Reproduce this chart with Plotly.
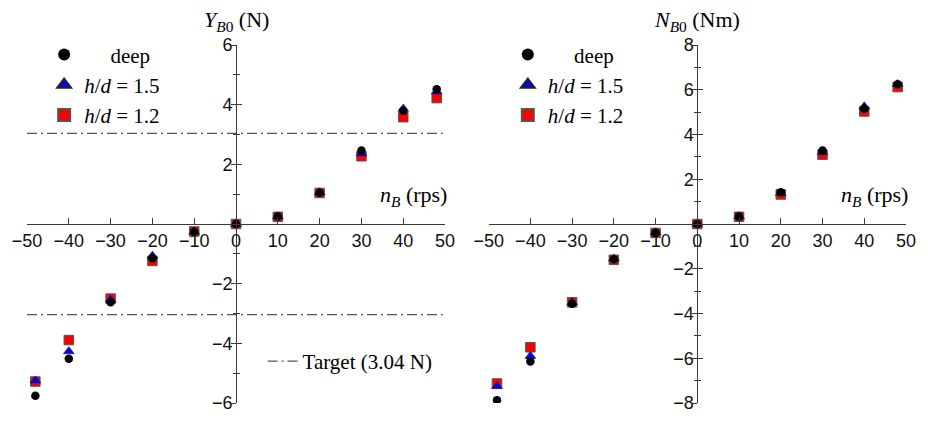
import plotly.graph_objects as go

n_B = [-48, -40, -30, -20, -10, 0, 10, 20, 30, 40, 48]

Y_deep = [-5.76, -4.52, -2.62, -1.15, -0.26, 0, 0.25, 1.05, 2.46, 3.80, 4.52]
Y_h15 = [-5.25, -4.27, -2.54, -1.07, -0.26, 0, 0.25, 1.06, 2.36, 3.86, 4.44]
Y_h12 = [-5.28, -3.89, -2.50, -1.24, -0.25, 0, 0.24, 1.04, 2.27, 3.58, 4.22]

N_deep = [-7.88, -6.14, -3.56, -1.58, -0.39, 0, 0.33, 1.42, 3.28, 5.15, 6.25]
N_h15 = [-7.25, -5.90, -3.50, -1.55, -0.38, 0, 0.33, 1.38, 3.20, 5.25, 6.25]
N_h12 = [-7.13, -5.51, -3.50, -1.60, -0.40, 0, 0.32, 1.32, 3.10, 5.03, 6.12]

target = 3.04
x_range = [-50, 50]
x_ticks = [-50, -40, -30, -20, -10, 0, 10, 20, 30, 40, 50]
y1_ticks = [-6, -4, -2, 2, 4, 6]
y1_minor = [-5, -3, -1, 1, 3, 5]
y2_ticks = [-8, -6, -4, -2, 2, 4, 6, 8]
y2_minor = [-7, -5, -3, -1, 1, 3, 5, 7]

SERIF = "Liberation Serif"
SANS = "Liberation Sans"
AX = "#3a3a3a"

lbl_deep = "&nbsp;&nbsp;&nbsp;&nbsp;&nbsp;deep"
lbl_15 = "<i>h</i>/<i>d</i> = 1.5"
lbl_12 = "<i>h</i>/<i>d</i> = 1.2"

fig = go.Figure()

def add_series(xa, ya, leg, deep, h15, h12):
    fig.add_trace(go.Scatter(x=n_B, y=h12, mode="markers", name=lbl_12, legend=leg, legendrank=3,
                             xaxis=xa, yaxis=ya,
                             marker=dict(symbol="square", size=9.5, color="#ff0000",
                                         line=dict(color="#555555", width=1))))
    fig.add_trace(go.Scatter(x=n_B, y=h15, mode="markers", name=lbl_15, legend=leg, legendrank=2,
                             xaxis=xa, yaxis=ya,
                             marker=dict(symbol="triangle-up", size=9.5, color="#0000ff",
                                         line=dict(color="#222222", width=0.6))))
    fig.add_trace(go.Scatter(x=n_B, y=deep, mode="markers", name=lbl_deep, legend=leg, legendrank=1,
                             xaxis=xa, yaxis=ya,
                             marker=dict(symbol="circle", size=8.5, color="#000000",
                                         line=dict(width=0))))

# target lines
fig.add_trace(go.Scatter(x=[x_range[0], x_range[1], None, x_range[0], x_range[1]],
                         y=[target, target, None, -target, -target],
                         mode="lines", name="Target (3.04 N)", legend="legend3",
                         xaxis="x", yaxis="y",
                         line=dict(color="#555555", width=1.2, dash="10px,4px,2px,4px")))

add_series("x", "y", "legend", Y_deep, Y_h15, Y_h12)
add_series("x2", "y2", "legend2", N_deep, N_h15, N_h12)

# empty helper traces so the overlaid tick-only axes are rendered
fig.add_trace(go.Scatter(x=[], y=[], xaxis="x", yaxis="y3", showlegend=False, hoverinfo="skip"))
fig.add_trace(go.Scatter(x=[], y=[], xaxis="x2", yaxis="y4", showlegend=False, hoverinfo="skip"))

d1 = [0, 0.4756]
d2 = [0.5252, 1.0]
p1 = (d1[0] + d1[1]) / 2
p2 = (d2[0] + d2[1]) / 2

def xax(domain):
    return dict(domain=domain, range=x_range, anchor="free", position=0.5,
                showline=True, linecolor=AX, linewidth=1, showgrid=False, zeroline=False,
                tickvals=x_ticks, ticks="inside", ticklen=6, tickcolor=AX, tickwidth=1,
                tickfont=dict(family=SANS, size=18, color="#111111"), fixedrange=True)

def yax(rng, tv, mv, pos):
    return dict(domain=[0, 1], range=rng, anchor="free", position=pos,
                showline=True, linecolor=AX, linewidth=1, showgrid=False, zeroline=False,
                tickvals=tv, ticks="inside", ticklen=5, tickcolor=AX, tickwidth=1,
                minor=dict(tickvals=mv, ticks="inside", ticklen=3, tickcolor=AX, tickwidth=1),
                tickfont=dict(family=SANS, size=18, color="#111111"), fixedrange=True)

def yover(rng, tv, mv, pos, over):
    return dict(domain=[0, 1], range=rng, anchor="free", position=pos, overlaying=over,
                showline=False, showgrid=False, zeroline=False, showticklabels=False,
                tickvals=tv, ticks="outside", ticklen=5, tickcolor=AX, tickwidth=1,
                minor=dict(tickvals=mv, ticks="outside", ticklen=3, tickcolor=AX, tickwidth=1),
                fixedrange=True)

legend_common = dict(font=dict(family=SERIF, size=21, color="#000000"),
                     bgcolor="rgba(0,0,0,0)", borderwidth=0,
                     xanchor="left", yanchor="top", tracegroupgap=0)

fig.update_layout(
    width=928, height=425,
    margin=dict(l=27, r=20, t=45, b=12),
    paper_bgcolor="white", plot_bgcolor="white",
    xaxis=xax(d1), yaxis=yax([-6, 6], y1_ticks, y1_minor, p1),
    xaxis2=xax(d2), yaxis2=yax([-8, 8], y2_ticks, y2_minor, p2),
    yaxis3=yover([-6, 6], y1_ticks, y1_minor, p1, "y"),
    yaxis4=yover([-8, 8], y2_ticks, y2_minor, p2, "y2"),
    legend=dict(x=0.0195, y=1.03, itemsizing="constant", **legend_common),
    legend2=dict(x=0.547, y=1.03, itemsizing="constant", **legend_common),
    legend3=dict(x=0.268, y=0.173, itemsizing="trace", **legend_common),
    showlegend=True,
)

fig.add_annotation(text="<i>Y</i><sub><i>B</i>0</sub> (N)", xref="x", yref="paper", x=0, y=1,
                   yshift=8, yanchor="bottom", showarrow=False,
                   font=dict(family=SERIF, size=22, color="#000000"))
fig.add_annotation(text="<i>N</i><sub><i>B</i>0</sub> (Nm)", xref="x2", yref="paper", x=0, y=1,
                   yshift=8, yanchor="bottom", showarrow=False,
                   font=dict(family=SERIF, size=22, color="#000000"))
for xr, yr in (("x", "y"), ("x2", "y2")):
    fig.add_annotation(text="<i>n</i><sub><i>B</i></sub> (rps)", xref=xr, yref=yr, x=50, y=0,
                       xanchor="right", yanchor="bottom", yshift=12, xshift=4, showarrow=False,
                       font=dict(family=SERIF, size=22, color="#000000"))

fig.write_html("out.html")
